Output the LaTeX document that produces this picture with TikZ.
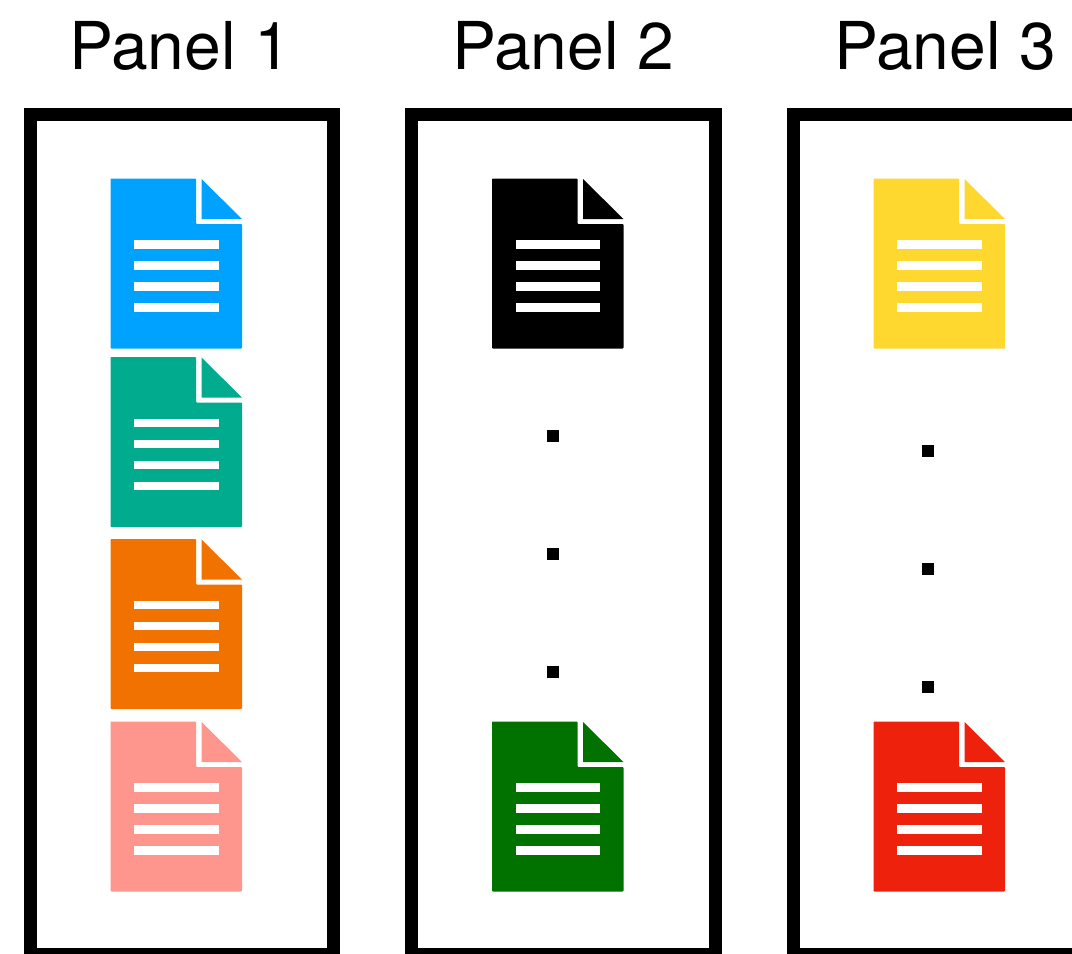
\documentclass[tikz,border=0pt]{standalone}
\usepackage{fontspec}
\setmainfont{TeX Gyre Heros}
\definecolor{cblue}{HTML}{00A2FF}
\definecolor{cteal}{HTML}{00AB8E}
\definecolor{corange}{HTML}{F27200}
\definecolor{cpink}{HTML}{FF968D}
\definecolor{cgreen}{HTML}{017100}
\definecolor{cyellow}{HTML}{FFD82F}
\definecolor{cred}{HTML}{EE220C}
\tikzset{
  x=1pt,y=-1pt,
  frame/.style={draw=black,line width=13pt,fill=white},
  title/.style={font=\fontsize{66}{66}\selectfont,anchor=base,inner sep=0pt,text=black},
  dotmark/.style={fill=black,draw=none},
  pics/docicon/.style={code={
    \fill[#1,rounded corners=0.8pt] (0,0) -- (85.5,0) -- (85.5,45.5) -- (131.5,45.5) -- (131.5,170) -- (0,170) -- cycle;
    \fill[#1] (91,0.5) -- (131.5,40.5) -- (91,40.5) -- cycle;
    \foreach \yy in {61.5,82.5,103.5,124.5}
      \fill[white] (23.5,\yy) rectangle (108,\yy+8.5);
  }}
}
\begin{document}
\begin{tikzpicture}
\useasboundingbox (0,0) rectangle (1072,954);
\clip (0,0) rectangle (1072,954);
\fill[white] (0,0) rectangle (1072,954);
\draw[frame] (30,114.5) rectangle (333.5,954.5);
\draw[frame] (411.5,114.5) rectangle (715,954.5);
\draw[frame] (793.5,114.5) rectangle (1100,954.5);
\node[title] (t1) at (180,69.5) {Panel 1};
\node[title] (t2) at (563,69.5) {Panel 2};
\node[title] (t3) at (945,69.5) {Panel 3};
\pic at (110.5,178.5) {docicon=cblue};
\pic at (110.5,357) {docicon=cteal};
\pic at (110.5,539) {docicon=corange};
\pic at (110.5,721.5) {docicon=cpink};
\pic at (492,178.5) {docicon=black};
\pic at (492,721.5) {docicon=cgreen};
\pic at (873.5,178.5) {docicon=cyellow};
\pic at (873.5,721.5) {docicon=cred};
\foreach \yy in {436,554,672} \fill[dotmark] (547,\yy-6) rectangle +(12,12);
\foreach \yy in {451,569,687} \fill[dotmark] (922,\yy-6) rectangle +(12,12);
\end{tikzpicture}
\end{document}
